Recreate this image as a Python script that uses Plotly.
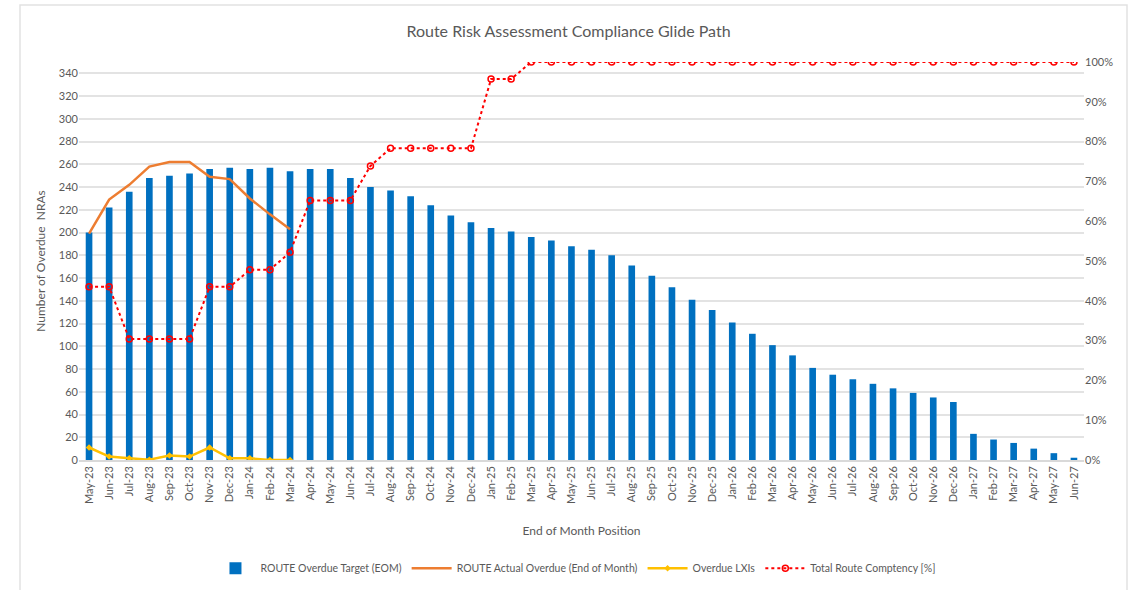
import plotly.graph_objects as go

months = ["May-23","Jun-23","Jul-23","Aug-23","Sep-23","Oct-23","Nov-23","Dec-23",
          "Jan-24","Feb-24","Mar-24","Apr-24","May-24","Jun-24","Jul-24","Aug-24","Sep-24","Oct-24","Nov-24","Dec-24",
          "Jan-25","Feb-25","Mar-25","Apr-25","May-25","Jun-25","Jul-25","Aug-25","Sep-25","Oct-25","Nov-25","Dec-25",
          "Jan-26","Feb-26","Mar-26","Apr-26","May-26","Jun-26","Jul-26","Aug-26","Sep-26","Oct-26","Nov-26","Dec-26",
          "Jan-27","Feb-27","Mar-27","Apr-27","May-27","Jun-27"]

target = [200,222,236,248,250,252,256,257,256,257,254,256,256,248,240,237,232,224,215,209,
          204,201,196,193,188,185,180,171,162,152,141,132,121,111,101,92,81,75,71,67,63,59,55,51,
          23,18,15,10,6,2]

actual_months = months[:11]
actual = [199,229,242,258,262,262,249,247,230,216,203]

lxi_months = months[:11]
lxi = [11,3,1.5,0.3,4,3,11,1.5,1.5,0,0]

competency = [0.435,0.435,0.304,0.304,0.304,0.304,0.435,0.435,0.478,0.478,0.522,
              0.652,0.652,0.652,0.739,0.783,0.783,0.783,0.783,0.783,0.957,0.957] + [1.0]*28

left_ticks = list(range(0, 341, 20))

FONT = "Lato"
GRAY = "#595959"

fig = go.Figure()
fig.add_trace(go.Bar(x=months, y=target, name="ROUTE Overdue Target (EOM)",
                     marker=dict(color="#0070C0", line=dict(width=0)), width=0.33))
fig.add_trace(go.Scatter(x=actual_months, y=actual, name="ROUTE Actual Overdue (End of Month)",
                         mode="lines", line=dict(color="#ED7D31", width=2.5)))
fig.add_trace(go.Scatter(x=lxi_months, y=lxi, name="Overdue LXIs",
                         mode="lines+markers", line=dict(color="#FFC000", width=2.5),
                         marker=dict(symbol="diamond", size=5, color="#FFC000")))
fig.add_trace(go.Scatter(x=months, y=competency, name="Total Route Comptency [%]", yaxis="y2",
                         mode="lines+markers", line=dict(color="#FF0000", width=2, dash="dot"),
                         marker=dict(symbol="circle-open", size=6, color="#FF0000", line=dict(width=1.5))))

fig.update_layout(
    width=1137, height=590,
    margin=dict(l=79, r=53, t=62, b=130, autoexpand=False),
    paper_bgcolor="white", plot_bgcolor="white",
    font=dict(family=FONT, color=GRAY, size=11),
    title=dict(text="Route Risk Assessment Compliance Glide Path", x=0.5, xanchor="center",
               y=1 - 31/590, yanchor="middle", font=dict(size=16, color=GRAY, family=FONT)),
    bargap=0.67,
    showlegend=True,
    legend=dict(orientation="h", x=0.494, xanchor="center", y=-0.272, yanchor="middle",
                font=dict(size=10.5, color=GRAY), itemwidth=40, tracegroupgap=0,
                traceorder="normal"),
    xaxis=dict(type="category", range=[-0.5, 49.5], tickangle=-90, showgrid=False, automargin=False,
               showline=True, linecolor="#d9d9d9", linewidth=1.5, ticks="",
               tickfont=dict(size=11, color=GRAY),
               title=dict(text="End of Month Position", font=dict(size=12, color=GRAY), standoff=24)),
    yaxis=dict(range=[0, 350], tickvals=left_ticks, showgrid=True, gridcolor="#e3e3e3", gridwidth=1.5,
               zeroline=False, ticks="", tickfont=dict(size=11, color=GRAY), automargin=False,
               title=dict(text="Number of Overdue  NRAs", font=dict(size=12, color=GRAY), standoff=10)),
    yaxis2=dict(range=[0, 1], dtick=0.1, tickformat=".0%", overlaying="y", side="right", automargin=False,
                showgrid=False, zeroline=False, ticks="", tickfont=dict(size=11, color=GRAY)),
    shapes=[dict(type="rect", xref="paper", yref="paper",
                 x0=(20-79)/1005, x1=(1127-79)/1005, y0=(460-620)/398, y1=(460-5)/398,
                 line=dict(color="#e2e2e2", width=1.5), layer="below")],
)

fig.write_html("out.html")
